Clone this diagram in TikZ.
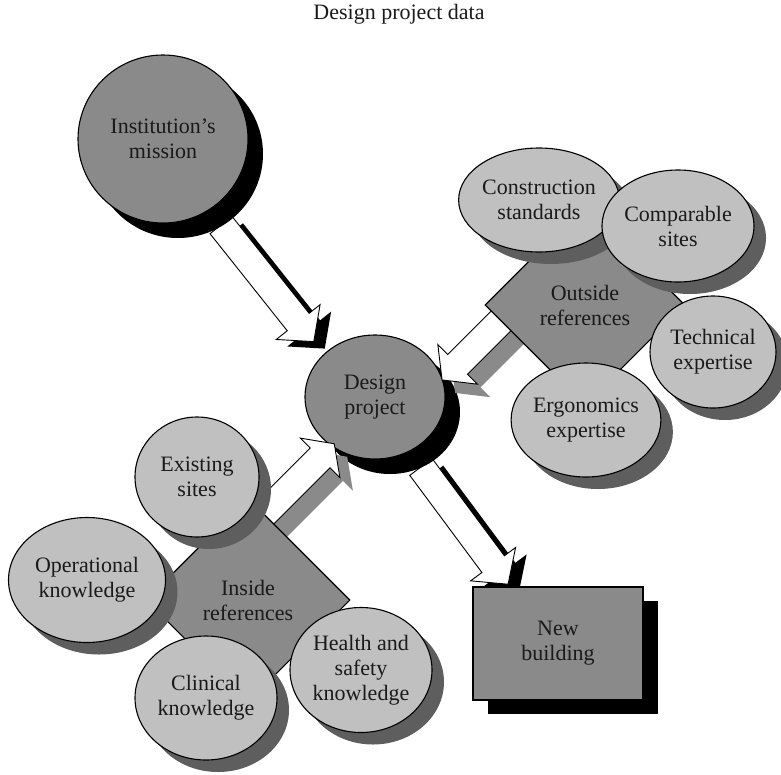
\documentclass[tikz,border=0pt]{standalone}
\usepackage{fontspec}
\setmainfont{Liberation Serif}
\usetikzlibrary{shapes.geometric,shadows}

\definecolor{maingray}{HTML}{8A8A8A}
\definecolor{lightgray}{HTML}{C0C0C0}
\definecolor{darkshade}{HTML}{5E5E5E}
\definecolor{inkcol}{HTML}{1A1A1A}

% block arrow: #1 shadow colour, #2 shadow offset, #3 start, #4 angle, #5 shaft length, #6 head length
\newcommand\fatarrow[6]{%
  \fill[#1, shift={#3}, shift={#2}, rotate=#4]
    (0,-14) -- (#5,-14) -- (#5,-28) -- ({#5+#6},0) -- (#5,28) -- (#5,14) -- (0,14) -- cycle;
  \draw[arrowline, fill=white, shift={#3}, rotate=#4]
    (0,-14) -- (#5,-14) -- (#5,-28) -- ({#5+#6},0) -- (#5,28) -- (#5,14) -- (0,14) -- cycle;
}

\tikzset{
  lbl/.style={font=\fontsize{22}{25}\selectfont, text=inkcol, align=center},
  outline/.style={draw=black, line width=1.1pt},
  arrowline/.style={draw=black, line width=0.9pt, line join=miter},
  bigdisc/.style={lbl, outline, ellipse, inner sep=0pt, fill=maingray,
    drop shadow={shadow xshift=15pt, shadow yshift=-15pt, fill=black, opacity=1}},
  smalldisc/.style={lbl, outline, ellipse, inner sep=0pt, fill=lightgray,
    drop shadow={shadow xshift=12pt, shadow yshift=-12pt, fill=darkshade, opacity=1}},
  refdiamond/.style={lbl, outline, diamond, aspect=1, inner sep=0pt, fill=maingray},
  buildbox/.style={lbl, outline, rectangle, inner sep=0pt, fill=maingray,
    drop shadow={shadow xshift=15pt, shadow yshift=-14pt, fill=black, opacity=1}},
}

\begin{document}
\begin{tikzpicture}[x=1pt, y=-1pt]
\path[use as bounding box] (0,0) rectangle (781,774);

\node[lbl, anchor=base] (title) at (399,19) {Design project data};

% arrow starts
\coordinate (a1) at (221,225);
\coordinate (a3) at (421,467);
\coordinate (a2) at (505,317);
\coordinate (a4) at (260,518);

% mission to design project
\fatarrow{black}{(11,7)}{(a1)}{-51.5}{124}{25}
\node[bigdisc, minimum width=170, minimum height=168] (mission) at (163,139) {Institution’s\\mission};

% design project to new building
\fatarrow{black}{(11,7)}{(a3)}{-53.4}{121}{25}
\node[bigdisc, minimum width=140, minimum height=124] (design) at (375,397) {Design\\project};

% references into design project
\fatarrow{maingray}{(13,13)}{(a2)}{-135}{67}{22}
\fatarrow{maingray}{(13,13)}{(a4)}{45}{85}{20}

\node[refdiamond, minimum width=200, minimum height=200] (outside) at (585,305) {Outside\\references};
\node[refdiamond, minimum width=204, minimum height=204] (inside) at (248,600) {Inside\\references};

% outside references
\node[smalldisc, minimum width=130, minimum height=104] (construction) at (539,200) {Construction\\standards};
\node[smalldisc, minimum width=127, minimum height=112] (comparable) at (678,226) {Comparable\\sites};
\node[smalldisc, minimum width=126, minimum height=112] (technical) at (713,352) {Technical\\expertise};
\node[smalldisc, minimum width=126, minimum height=114] (ergonomics) at (586,420) {Ergonomics\\expertise};

% inside references
\node[smalldisc, minimum width=124, minimum height=120] (existing) at (197,477) {Existing\\sites};
\node[smalldisc, minimum width=157, minimum height=125] (operational) at (87,580) {Operational\\knowledge};
\node[smalldisc, minimum width=142, minimum height=124] (clinical) at (206,698) {Clinical\\knowledge};
\node[smalldisc, minimum width=142, minimum height=125] (health) at (361,670) {Health and\\safety\\knowledge};

% result
\node[buildbox, minimum width=170, minimum height=113] (building) at (558,643.5) {New\\building};
\end{tikzpicture}
\end{document}
